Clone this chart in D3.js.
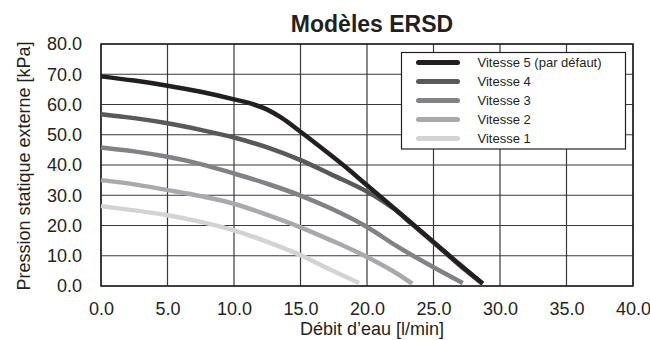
<!DOCTYPE html>
<html>
<head>
<meta charset="utf-8">
<script src="https://cdn.jsdelivr.net/npm/d3@7"></script>
<style>
  body { margin: 0; background: #fff; }
  text { font-family: "Liberation Sans", Arial, sans-serif; fill: #231f20; }
  .axis path, .axis line { display: none; }
  .axis text { font-size: 18px; }
</style>
</head>
<body>
<script>
// data
var seriesNames = ['Vitesse 5 (par défaut)', 'Vitesse 4', 'Vitesse 3', 'Vitesse 2', 'Vitesse 1'];
var seriesColors = ['#231f20', '#58595b', '#808285', '#a7a9ac', '#d1d3d4'];

var flowV5 = [0, 2.5, 5, 7.5, 10, 11.5, 12.5, 13.5, 15, 17, 18.7, 20, 21, 23.3, 25, 27, 28.7];
var presV5 = [69.3, 67.9, 66.2, 64.2, 61.7, 60.0, 58.3, 55.8, 51.0, 44.2, 38.2, 33.3, 29.6, 21.0, 14.6, 7.0, 0.8];

var flowV4 = [0, 2.5, 5, 7.5, 10, 12.5, 15, 17.3, 20, 21, 22, 23.3, 25, 27, 28.7];
var presV4 = [56.8, 55.5, 53.8, 51.6, 49.1, 45.8, 41.6, 36.9, 31.2, 28.6, 25.6, 20.7, 14.4, 6.7, 0.7];

var flowV3 = [0, 2.5, 5, 7.5, 10, 12.5, 15, 17.3, 20, 22.3, 25, 27.2];
var presV3 = [45.8, 44.5, 42.7, 40.3, 37.2, 33.8, 29.9, 25.6, 19.5, 13.0, 6.2, 1.0];

var flowV2 = [0, 2.5, 5, 7.5, 10, 12.5, 15, 17.3, 20, 22, 23.4];
var presV2 = [35.0, 33.6, 31.7, 29.7, 27.2, 23.5, 19.4, 15.1, 9.6, 4.8, 0.8];

var flowV1 = [0, 2.5, 5, 7.5, 10, 12.5, 15, 17.3, 19.4];
var presV1 = [26.4, 25.0, 23.4, 21.2, 18.4, 14.6, 10.2, 5.3, 1.0];

var xTicks = [0, 5, 10, 15, 20, 25, 30, 35, 40];
var yTicks = [0, 10, 20, 30, 40, 50, 60, 70, 80];

var flows = [flowV5, flowV4, flowV3, flowV2, flowV1];
var pressures = [presV5, presV4, presV3, presV2, presV1];

// dimensions
var margin = {top: 44, right: 17, bottom: 54, left: 101};
var W = 650, H = 340;
var w = W - margin.left - margin.right;
var h = H - margin.top - margin.bottom;

var svg = d3.select('body').append('svg')
            .attr('width', W)
            .attr('height', H);

var g = svg.append('g')
           .attr('transform', 'translate(' + margin.left + ',' + margin.top + ')');

var xScale = d3.scaleLinear().domain([0, 40]).range([0, w]);
var yScale = d3.scaleLinear().domain([0, 80]).range([h, 0]);

// grid
g.selectAll('.vgrid')
 .data(xTicks)
 .enter().append('line')
 .attr('x1', function(d) { return xScale(d); })
 .attr('x2', function(d) { return xScale(d); })
 .attr('y1', 0)
 .attr('y2', h)
 .attr('stroke', '#3a3a3a')
 .attr('stroke-width', 1.2);

g.selectAll('.hgrid')
 .data(yTicks)
 .enter().append('line')
 .attr('x1', 0)
 .attr('x2', w)
 .attr('y1', function(d) { return yScale(d); })
 .attr('y2', function(d) { return yScale(d); })
 .attr('stroke', '#3a3a3a')
 .attr('stroke-width', 1.2);

g.append('rect')
 .attr('width', w)
 .attr('height', h)
 .attr('fill', 'none')
 .attr('stroke', '#231f20')
 .attr('stroke-width', 1.5);

// axes (labels only)
var fmt = d3.format('.1f');
g.append('g')
 .attr('class', 'axis')
 .attr('transform', 'translate(0,' + h + ')')
 .call(d3.axisBottom(xScale).tickValues(xTicks).tickFormat(fmt).tickSize(0).tickPadding(16));

g.append('g')
 .attr('class', 'axis')
 .call(d3.axisLeft(yScale).tickValues(yTicks).tickFormat(fmt).tickSize(0).tickPadding(19));

// curves
var line = d3.line()
             .x(function(d) { return xScale(d[0]); })
             .y(function(d) { return yScale(d[1]); })
             .curve(d3.curveMonotoneX);

for (var i = seriesNames.length - 1; i >= 0; i--) {
  var pts = flows[i].map(function(f, j) { return [f, pressures[i][j]]; });
  g.append('path')
   .datum(pts)
   .attr('d', line)
   .attr('fill', 'none')
   .attr('stroke', seriesColors[i])
   .attr('stroke-width', 4.5);
}

// legend
var legend = svg.append('g')
                .attr('transform', 'translate(401.5,52.5)');
legend.append('rect')
      .attr('width', 224)
      .attr('height', 96.5)
      .attr('fill', '#fff')
      .attr('stroke', '#231f20')
      .attr('stroke-width', 1.2);

var rows = legend.selectAll('.row')
                 .data(seriesNames)
                 .enter().append('g')
                 .attr('transform', function(d, i) { return 'translate(0,' + (10 + i * 19) + ')'; });
rows.append('line')
    .attr('x1', 17)
    .attr('x2', 56)
    .attr('stroke', function(d, i) { return seriesColors[i]; })
    .attr('stroke-width', 5)
    .attr('stroke-linecap', 'round');
rows.append('text')
    .attr('x', 76)
    .attr('dy', '0.35em')
    .style('font-size', '13px')
    .text(function(d) { return d; });

// titles
svg.append('text')
   .attr('x', 372)
   .attr('y', 32)
   .attr('text-anchor', 'middle')
   .style('font-size', '23px')
   .style('font-weight', 'bold')
   .text('Modèles ERSD');

svg.append('text')
   .attr('x', 372)
   .attr('y', 335)
   .attr('text-anchor', 'middle')
   .style('font-size', '18px')
   .text('Débit d’eau [l/min]');

svg.append('text')
   .attr('text-anchor', 'middle')
   .attr('transform', 'translate(30,166)rotate(-90)')
   .style('font-size', '18px')
   .text('Pression statique externe [kPa]');
</script>
</body>
</html>
